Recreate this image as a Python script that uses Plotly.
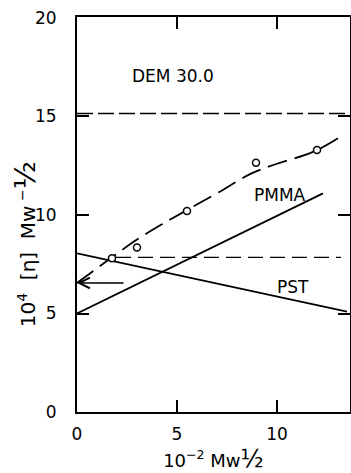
import plotly.graph_objects as go

# PST and PMMA straight lines (endpoints)
pst_x = [0.0, 13.5]
pst_y = [8.05, 5.1]
pmma_x = [0.0, 12.3]
pmma_y = [5.0, 11.1]

# Dashed curve (DEM 30.0 blend)
blend_x = [0.0, 1.75, 3.0, 4.2, 5.5, 7.0, 8.7, 10.0, 11.8, 13.05]
blend_y = [6.55, 7.85, 8.75, 9.5, 10.25, 11.1, 12.1, 12.6, 13.2, 13.9]

# Measured points (open circles)
pts_x = [1.75, 3.0, 5.5, 8.95, 12.0]
pts_y = [7.8, 8.35, 10.2, 12.65, 13.3]

# Horizontal dashed reference lines
upper_x = [0.0, 13.65]
upper_y = [15.15, 15.15]
lower_x = [1.95, 13.2]
lower_y = [7.85, 7.85]

# Arrow pointing to the axis
arrow_from = (2.4, 6.55)
arrow_to = (0.0, 6.55)

x_ticks = [0, 5, 10]
y_ticks = [0, 5, 10, 15, 20]

FONT = "DejaVu Sans, Liberation Sans, sans-serif"
NB = "\u00a0"

fig = go.Figure()
fig.add_trace(go.Scatter(x=upper_x, y=upper_y, mode="lines",
                         line=dict(color="black", width=1.6, dash="16px,5px")))
fig.add_trace(go.Scatter(x=lower_x, y=lower_y, mode="lines",
                         line=dict(color="black", width=1.3, dash="15px,7px")))
fig.add_trace(go.Scatter(x=pst_x, y=pst_y, mode="lines",
                         line=dict(color="black", width=1.8)))
fig.add_trace(go.Scatter(x=pmma_x, y=pmma_y, mode="lines",
                         line=dict(color="black", width=1.8)))
fig.add_trace(go.Scatter(x=blend_x, y=blend_y, mode="lines",
                         line=dict(color="black", width=1.8, dash="20px,8px", shape="spline")))
fig.add_trace(go.Scatter(x=pts_x, y=pts_y, mode="markers",
                         marker=dict(symbol="circle", size=7, color="white",
                                     line=dict(color="black", width=1.5))))

fig.add_annotation(x=arrow_to[0], y=arrow_to[1], ax=arrow_from[0], ay=arrow_from[1],
                   xref="x", yref="y", axref="x", ayref="y", text="",
                   showarrow=True, arrowhead=5, arrowsize=1.3, arrowwidth=1.6,
                   arrowcolor="black", standoff=0)

fig.add_annotation(x=4.8, y=17.05, text="DEM 30.0", showarrow=False,
                   font=dict(family=FONT, size=17, color="black"))
fig.add_annotation(x=10.15, y=11.0, text="PMMA", showarrow=False,
                   font=dict(family=FONT, size=17, color="black"))
fig.add_annotation(x=10.8, y=6.35, text="PST", showarrow=False,
                   font=dict(family=FONT, size=17, color="black"))

# y axis title (rotated annotation, placed like the original)
y_title = ("10<sup>4</sup>" + NB * 2 + "[η]" + NB * 2 + "Mw<sup>" + NB + "\u2212</sup>"
           "<span style='font-size:29px'>½</span>")
fig.add_annotation(xref="paper", yref="paper", x=-0.19, y=0.425, text=y_title,
                   textangle=-90, showarrow=False, xanchor="center", yanchor="middle",
                   font=dict(family=FONT, size=20, color="black"))

axis_common = dict(showgrid=False, zeroline=False, showline=True, linecolor="black",
                   linewidth=2, mirror="ticks", ticks="inside", ticklen=12,
                   tickwidth=2, tickcolor="black", ticklabeloverflow="allow",
                   tickfont=dict(family=FONT, size=17, color="black"))

x_title = "10<sup>\u22122</sup>" + NB + "Mw<span style='font-size:24px'>½</span>"
fig.update_xaxes(range=[0, 13.65], tickvals=x_ticks, ticktext=[str(v) for v in x_ticks],
                 ticklabelstandoff=6,
                 title=dict(text=x_title, standoff=12,
                            font=dict(family=FONT, size=18, color="black")),
                 **axis_common)
fig.update_yaxes(range=[0, 20.05], tickvals=y_ticks, ticktext=[str(v) for v in y_ticks],
                 ticklabelstandoff=15, **axis_common)

fig.update_layout(width=351, height=473, showlegend=False,
                  margin=dict(l=77, r=1, t=17, b=61, autoexpand=False),
                  plot_bgcolor="white", paper_bgcolor="white")

# remove the default 8px page margin so the figure fills the window exactly
fig.write_html("out.html", config={"displayModeBar": False},
               post_script="document.body.style.margin='0';document.body.style.overflow='hidden';")
